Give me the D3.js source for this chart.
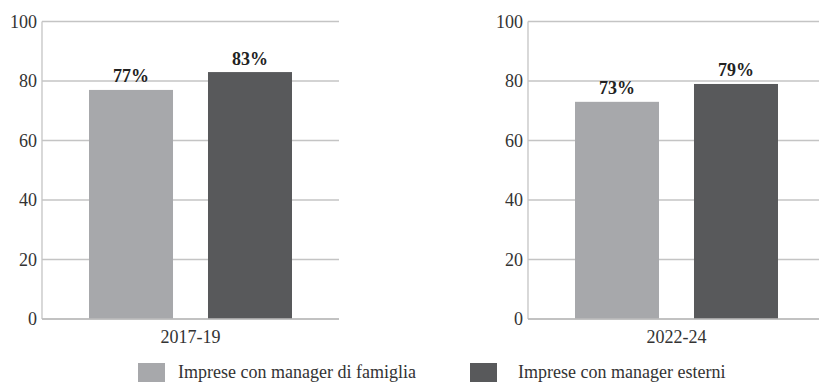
<!DOCTYPE html>
<html>
<head>
<meta charset="utf-8">
<script src="https://cdn.jsdelivr.net/npm/d3@7"></script>
<style>
  html, body { margin: 0; padding: 0; background: #fff; }
  svg { display: block; font-family: "Liberation Serif", "Times New Roman", serif; }
</style>
</head>
<body>
<svg id="chart" width="819" height="382"></svg>
<script>
// Periods shown as separate panels
const periods = ["2017-19", "2022-24"];
// Series (one bar each per panel)
const seriesNames = ["Imprese con manager di famiglia", "Imprese con manager esterni"];
const familyValues = [77, 73];
const externalValues = [83, 79];
const yTicks = [0, 20, 40, 60, 80, 100];

const colors = ["#a7a8ab", "#58595b"];
const gridColor = "#c4c4c4";
const textColor = "#333333";

const svg = d3.select("#chart");

// Panel layout
const panelLeft = [42, 528];
const panelWidth = 297;
const y = d3.scaleLinear().domain([0, 100]).range([319, 21.5]);

periods.forEach((period, i) => {
  const x0 = panelLeft[i];
  const g = svg.append("g");
  const x = d3.scaleBand()
    .domain(seriesNames)
    .range([x0, x0 + panelWidth])
    .paddingInner(0.294)
    .paddingOuter(0.395);

  // Horizontal grid lines
  g.selectAll("line.grid")
    .data(yTicks)
    .join("line")
    .attr("x1", x0)
    .attr("x2", x0 + panelWidth)
    .attr("y1", d => y(d))
    .attr("y2", d => y(d))
    .attr("stroke", gridColor)
    .attr("stroke-width", 1.3);

  // Vertical axis line
  g.append("line")
    .attr("x1", x0).attr("x2", x0)
    .attr("y1", y(100)).attr("y2", y(0))
    .attr("stroke", gridColor)
    .attr("stroke-width", 1.3);

  // Tick labels
  g.selectAll("text.tick")
    .data(yTicks)
    .join("text")
    .attr("x", x0 - 5)
    .attr("y", d => y(d) + 6)
    .attr("text-anchor", "end")
    .attr("font-size", 18)
    .attr("fill", textColor)
    .text(d => d);

  const vals = [familyValues[i], externalValues[i]];
  const bars = seriesNames.map((s, k) => ({ s, v: vals[k], c: colors[k] }));

  g.selectAll("rect.bar")
    .data(bars)
    .join("rect")
    .attr("x", d => x(d.s))
    .attr("width", x.bandwidth())
    .attr("y", d => y(d.v))
    .attr("height", d => y(0) - y(d.v))
    .attr("fill", d => d.c);

  // Value labels
  g.selectAll("text.val")
    .data(bars)
    .join("text")
    .attr("x", d => x(d.s) + x.bandwidth() / 2)
    .attr("y", d => y(d.v) - 7.5)
    .attr("text-anchor", "middle")
    .attr("font-size", 18)
    .attr("font-weight", "bold")
    .attr("fill", "#222222")
    .text(d => d.v + "%");

  // Baseline redrawn on top of bars
  g.append("line")
    .attr("x1", x0).attr("x2", x0 + panelWidth)
    .attr("y1", y(0)).attr("y2", y(0))
    .attr("stroke", "#bdbdbd")
    .attr("stroke-width", 1.5);

  // Period label
  g.append("text")
    .attr("x", x0 + panelWidth / 2)
    .attr("y", 343)
    .attr("text-anchor", "middle")
    .attr("font-size", 18)
    .attr("fill", textColor)
    .text(period);
});

// Legend
const legendX = [138, 470];
const legendTextX = [178, 518];
seriesNames.forEach((s, k) => {
  svg.append("rect")
    .attr("x", legendX[k]).attr("y", 363)
    .attr("width", 27).attr("height", 19)
    .attr("fill", colors[k]);
  svg.append("text")
    .attr("x", legendTextX[k])
    .attr("y", 378)
    .attr("font-size", 18)
    .attr("fill", textColor)
    .text(s);
});
</script>
</body>
</html>
